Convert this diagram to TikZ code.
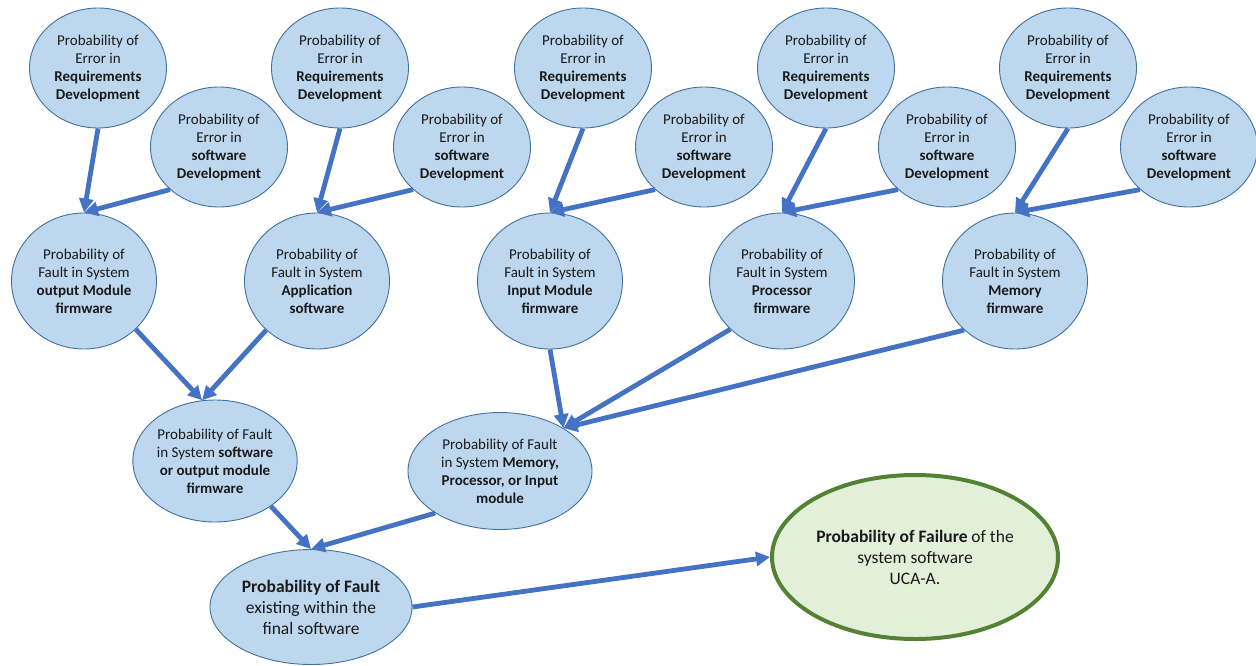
\documentclass[tikz,border=0pt]{standalone}
\usepackage{fontspec}
\setmainfont{Carlito}
\usetikzlibrary{shapes.geometric,arrows.meta}
\definecolor{nodefill}{HTML}{BDD7EE}
\definecolor{nodeline}{HTML}{41719C}
\definecolor{arrowblue}{HTML}{4472C4}
\definecolor{greenfill}{HTML}{E2EFD9}
\definecolor{greenline}{HTML}{548235}
\definecolor{txt}{HTML}{1A1A1A}
\tikzset{
  bub/.style={ellipse, draw=nodeline, line width=0.9pt, fill=nodefill, inner sep=0pt,
    align=center, text=txt, font=\fontsize{15}{18}\selectfont},
  small/.style={bub, minimum width=137pt, minimum height=120pt},
  mid/.style={bub, minimum width=145pt, minimum height=136pt},
  big/.style={bub, font=\fontsize{17.5}{21}\selectfont},
  finalbub/.style={ellipse, draw=greenline, line width=4pt, fill=greenfill, inner sep=0pt,
    align=center, text=txt, font=\fontsize{17.5}{21}\selectfont,
    minimum width=286pt, minimum height=164pt},
  conn/.style={draw=arrowblue, line width=4.8pt,
    -{Triangle[length=14pt,width=14pt]}, shorten >=0pt}
}
\begin{document}
\begin{tikzpicture}[x=1pt,y=-1pt]
\useasboundingbox (0,0) rectangle (1256,665);
% row 1: requirements
\foreach \i/\x in {1/98,2/340,3/583,4/826,5/1068}{
  \node[small] (r\i) at (\x,68) {Probability of\\Error in\\\textbf{Requirements}\\\textbf{Development}};
}
% row 2: software
\foreach \i/\x in {1/219,2/462,3/704,4/947,5/1189}{
  \node[small] (s\i) at (\x,147) {Probability of\\Error in\\\textbf{software}\\\textbf{Development}};
}
% row 3
\node[mid] (f1) at (84,281) {Probability of\\Fault in System\\\textbf{output Module}\\\textbf{firmware}};
\node[mid] (f2) at (317,281) {Probability of\\Fault in System\\\textbf{Application}\\\textbf{software}};
\node[mid] (f3) at (550,281) {Probability of\\Fault in System\\\textbf{Input Module}\\\textbf{firmware}};
\node[mid] (f4) at (782,281) {Probability of\\Fault in System\\\textbf{Processor}\\\textbf{firmware}};
\node[mid] (f5) at (1015,281) {Probability of\\Fault in System\\\textbf{Memory}\\\textbf{firmware}};
% row 4
\node[bub, minimum width=155pt, minimum height=122pt] (g1) at (215,461)
  {Probability of Fault\\in System \textbf{software}\\\textbf{or output module}\\\textbf{firmware}};
\node[bub, minimum width=184pt, minimum height=117pt] (g2) at (500,471)
  {Probability of Fault\\in System \textbf{Memory,}\\\textbf{Processor, or Input}\\\textbf{module}};
% row 5
\node[big, minimum width=202pt, minimum height=115pt] (fin) at (311,607)
  {\textbf{Probability of Fault}\\existing within the\\final software};
\node[finalbub] (fail) at (915,557)
  {\textbf{Probability of Failure} of the\\system software\\UCA-A.};
% connectors
\foreach \i in {1,...,5}{
  \draw[conn] (r\i.south) -- (f\i.north);
  \draw[conn] (s\i.221) -- (f\i.north);
}
\draw[conn] (f1.317) -- (g1.102);
\draw[conn] (f2.224) -- (g1.102);
\draw[conn] (f3.south) -- (g2.34);
\draw[conn] (f4.223) -- (g2.34);
\draw[conn] (f5.224) -- (g2.34);
\draw[conn] (g1.321) -- (fin.north);
\draw[conn] (g2.213) -- (fin.north);
\draw[conn] (fin.east) -- (fail.west);
\end{tikzpicture}
\end{document}
